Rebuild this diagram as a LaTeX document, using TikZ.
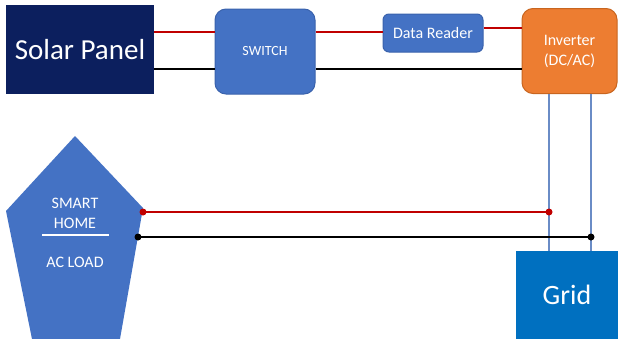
\documentclass[tikz,border=0pt]{standalone}
\usepackage{fontspec}
\setmainfont{Carlito}
\definecolor{navy}{HTML}{0C1F5E}
\definecolor{boxblue}{HTML}{4472C4}
\definecolor{boxedge}{HTML}{3A62AC}
\definecolor{orng}{HTML}{ED7D31}
\definecolor{orngedge}{HTML}{C8651F}
\definecolor{gridblue}{HTML}{0070C0}
\definecolor{wirered}{HTML}{C00000}
\definecolor{acwire}{HTML}{6A8CC6}
\begin{document}
\begin{tikzpicture}[x=1pt,y=-1pt,
  lbl/.style={text=white, align=center, inner sep=0pt},
  blockbox/.style={rectangle, rounded corners=11pt, fill=boxblue, draw=boxedge, line width=1pt, lbl},
  redwire/.style={draw=wirered, line width=2pt},
  blackwire/.style={draw=black, line width=2pt},
  acline/.style={draw=acwire, line width=2pt},
  dot/.style={circle, inner sep=0pt, minimum size=7pt}]
\useasboundingbox (0,0) rectangle (618,338);

% blocks
\node[rectangle, fill=navy, minimum width=148pt, minimum height=89pt, lbl, font=\fontsize{29}{32}\selectfont] (sp) at (80,49.5) {Solar Panel};
\node[blockbox, minimum width=100pt, minimum height=85pt, font=\fontsize{14}{16}\selectfont] (sw) at (265,51.5) {SWITCH};
\node[blockbox, rounded corners=6pt, minimum width=100pt, minimum height=38pt, font=\fontsize{16}{18}\selectfont] (dr) at (433,33) {Data Reader};
\node[rectangle, rounded corners=11pt, fill=orng, draw=orngedge, line width=1pt, minimum width=95pt, minimum height=85pt, lbl, font=\fontsize{16}{20}\selectfont] (inv) at (569.5,51) {Inverter\\(DC/AC)};
\node[rectangle, fill=gridblue, minimum width=103pt, minimum height=88pt, lbl, font=\fontsize{28}{30}\selectfont] (grid) at (567,295) {Grid};

% smart home pentagon
\coordinate (ptop) at (75,136);
\coordinate (pright) at (143,208);
\coordinate (pbr) at (120,339);
\coordinate (pbl) at (32,339);
\coordinate (pleft) at (6,211);
\fill[boxblue] (ptop) -- (pright) -- (pbr) -- (pbl) -- (pleft) -- cycle;
\node[lbl, font=\fontsize{16}{20}\selectfont] (home) at (75,213) {SMART\\HOME};
\coordinate (ul) at (42,235);
\coordinate (ur) at (109,235);
\draw[white, line width=2pt] (ul) -- (ur);
\node[lbl, font=\fontsize{16}{18}\selectfont] (acload) at (75,262) {AC LOAD};

% DC wires
\coordinate (ry1) at (0,32);
\coordinate (ry2) at (0,28);
\coordinate (by) at (0,69);
\draw[redwire] (sp.east |- ry1) -- (sw.west |- ry1);
\draw[redwire] (sw.east |- ry1) -- (dr.west |- ry1);
\draw[redwire] (dr.east |- ry2) -- (inv.west |- ry2);
\draw[blackwire] (sp.east |- by) -- (sw.west |- by);
\draw[blackwire] (sw.east |- by) -- (inv.west |- by);

% AC lines
\coordinate (ax1) at (549,0);
\coordinate (ax2) at (591,0);
\draw[acline] (inv.south -| ax1) -- (grid.north -| ax1);
\draw[acline] (inv.south -| ax2) -- (grid.north -| ax2);

% AC load wires
\node[dot, fill=wirered] (hr) at (143,212) {};
\node[dot, fill=wirered] (gr) at (549,212) {};
\node[dot, fill=black] (hb) at (138,237) {};
\node[dot, fill=black] (gb) at (591,237) {};
\draw[redwire] (hr.center) -- (gr.center);
\draw[blackwire] (hb.center) -- (gb.center);
\end{tikzpicture}
\end{document}
